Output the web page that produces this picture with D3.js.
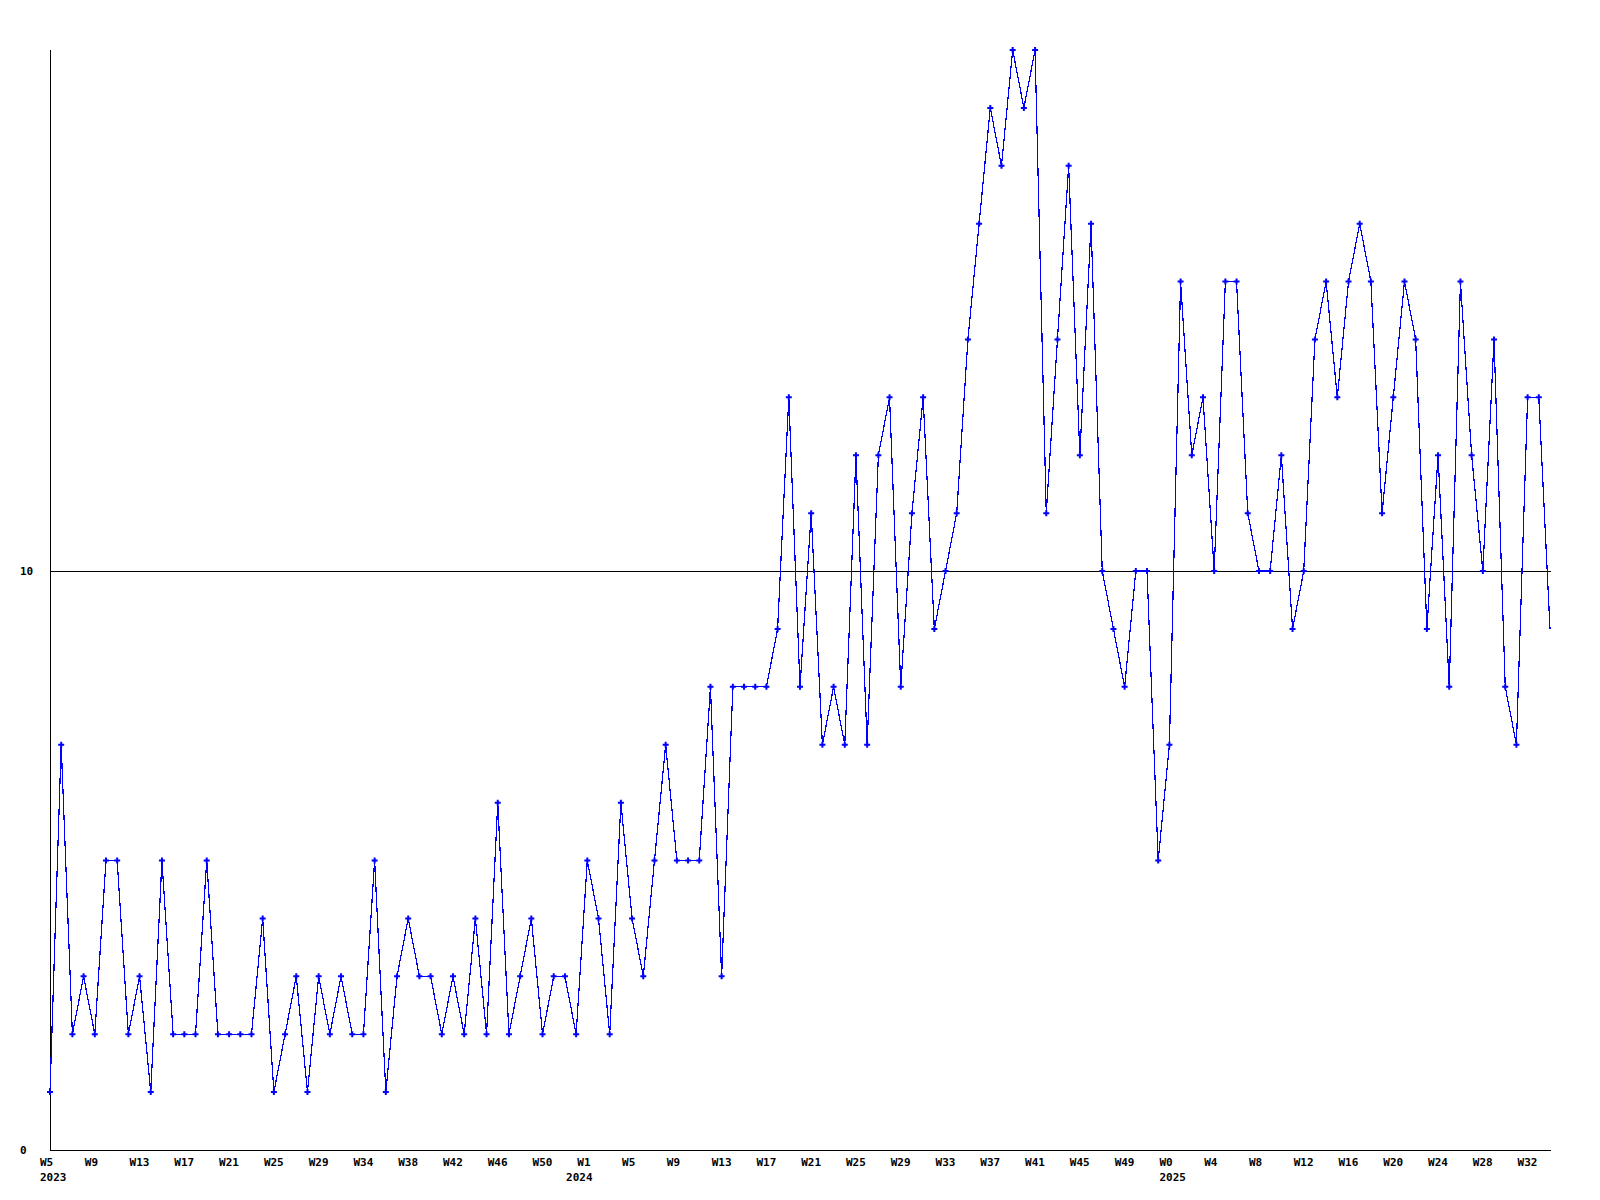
<!DOCTYPE html>
<html>
<head>
<meta charset="utf-8">
<script src="https://cdn.jsdelivr.net/npm/d3@7"></script>
<style>
  html, body { margin: 0; padding: 0; background: #ffffff; }
  svg { display: block; }
  text { font-family: "DejaVu Sans Mono", "Liberation Mono", monospace; font-weight: bold; font-size: 11px; fill: #000; }
</style>
</head>
<body>
<script>
// Weekly counts, one per week (first point = 2023 W5)
const values = [
  1, 7, 2, 3, 2, 5, 5, 2, 3, 1,
  5, 2, 2, 2, 5, 2, 2, 2, 2, 4,
  1, 2, 3, 1, 3, 2, 3, 2, 2, 5,
  1, 3, 4, 3, 3, 2, 3, 2, 4, 2,
  6, 2, 3, 4, 2, 3, 3, 2, 5, 4,
  2, 6, 4, 3, 5, 7, 5, 5, 5, 8,
  3, 8, 8, 8, 8, 9, 13, 8, 11, 7,
  8, 7, 12, 7, 12, 13, 8, 11, 13, 9,
  10, 11, 14, 16, 18, 17, 19, 18, 19, 11,
  14, 17, 12, 16, 10, 9, 8, 10, 10, 5,
  7, 15, 12, 13, 10, 15, 15, 11, 10, 10,
  12, 9, 10, 14, 15, 13, 15, 16, 15, 11,
  13, 15, 14, 9, 12, 8, 15, 12, 10, 14,
  8, 7, 13, 13, 9
];

// Week labels, shown every 4th week
const weekLabels = ["W5","W9","W13","W17","W21","W25","W29","W34","W38","W42","W46","W50",
  "W1","W5","W9","W13","W17","W21","W25","W29","W33","W37","W41","W45","W49",
  "W0","W4","W8","W12","W16","W20","W24","W28","W32"];
const labelStep = 4;

// Year labels and the week index where each year starts
const years = ["2023", "2024", "2025"];
const yearStartIndex = [0, 47, 100];

// Y-axis tick values
const yTicks = [0, 10];
const yMax = 19;

const W = 1600, H = 1200;
const mLeft = 50, mRight = 1550, mTop = 50, mBottom = 1150;

const svg = d3.select("body").append("svg")
  .attr("width", W).attr("height", H);

const x = d3.scaleLinear().domain([0, values.length - 1]).range([mLeft, mRight]);
const y = d3.scaleLinear().domain([0, yMax]).range([mBottom, mTop]);

// Horizontal reference line at 10
svg.selectAll("line.grid").data(yTicks.filter(d => d > 0)).enter()
  .append("line").attr("class", "grid")
  .attr("x1", mLeft).attr("x2", mRight + 1)
  .attr("y1", d => Math.round(y(d)) + 0.5).attr("y2", d => Math.round(y(d)) + 0.5)
  .attr("stroke", "#000").attr("stroke-width", 1)
  .attr("shape-rendering", "crispEdges");

// Axes
svg.append("line")
  .attr("x1", mLeft + 0.5).attr("x2", mLeft + 0.5)
  .attr("y1", mTop).attr("y2", mBottom + 1)
  .attr("stroke", "#000").attr("shape-rendering", "crispEdges");
svg.append("line")
  .attr("x1", mLeft).attr("x2", mRight + 1)
  .attr("y1", mBottom + 0.5).attr("y2", mBottom + 0.5)
  .attr("stroke", "#000").attr("shape-rendering", "crispEdges");

// Y tick labels
svg.selectAll("text.ylab").data(yTicks).enter()
  .append("text").attr("class", "ylab")
  .attr("x", 20)
  .attr("y", d => y(d) + 4)
  .text(d => d);

// X week labels
svg.selectAll("text.xlab").data(weekLabels).enter()
  .append("text").attr("class", "xlab")
  .attr("x", (d, i) => x(i * labelStep) - 10)
  .attr("y", mBottom + 16)
  .text(d => d);

// Year labels
svg.selectAll("text.year").data(years).enter()
  .append("text").attr("class", "year")
  .attr("x", (d, i) => x(yearStartIndex[i]) - 10)
  .attr("y", mBottom + 31)
  .text(d => d);

// Data line
const line = d3.line().x((d, i) => x(i)).y(d => y(d));
svg.append("path")
  .datum(values)
  .attr("d", line)
  .attr("fill", "none")
  .attr("stroke", "#0000ff")
  .attr("stroke-width", 1.2)
  .attr("shape-rendering", "crispEdges");

// Markers (not on the last, incomplete week)
const sym = d3.symbol().type(d3.symbolCross).size(20);
svg.selectAll("path.mk").data(values.slice(0, values.length - 1)).enter()
  .append("path").attr("class", "mk")
  .attr("d", sym)
  .attr("transform", (d, i) => `translate(${x(i)},${y(d)})`)
  .attr("fill", "#0000ff");
</script>
</body>
</html>
